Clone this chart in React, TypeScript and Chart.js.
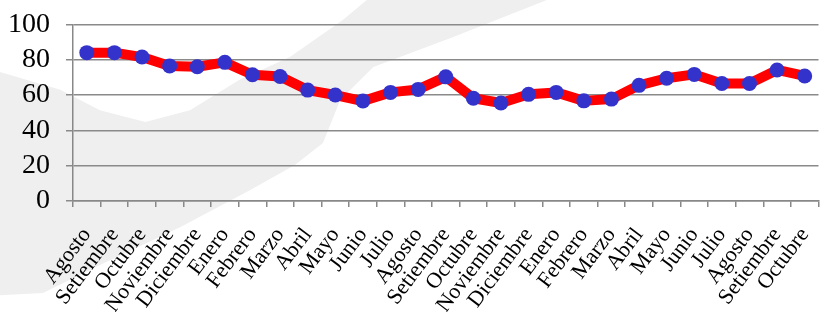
import React, { useEffect, useRef } from "react";
import { Chart, registerables } from "chart.js";

Chart.register(...registerables);

const categories = [
  "Agosto", "Setiembre", "Octubre", "Noviembre", "Diciembre", "Enero", "Febrero", "Marzo", "Abril",
  "Mayo", "Junio", "Julio", "Agosto", "Setiembre", "Octubre", "Noviembre", "Diciembre", "Enero",
  "Febrero", "Marzo", "Abril", "Mayo", "Junio", "Julio", "Agosto", "Setiembre", "Octubre",
];

const seriesValues = [
  84, 84, 81.5, 76.5, 76, 78.5, 71.5, 70.5, 62.8, 60, 56.6, 61.5, 63.2, 70.3, 58.2, 55.5, 60.4,
  61.5, 56.7, 57.7, 65.5, 69.5, 71.7, 66.5, 66.5, 74.2, 70.8,
];

const yMin = 0;
const yMax = 100;
const yStep = 20;

// decorative background swoosh (fractions of the canvas size)
const swoosh: [number, number][] = [
  [0, 0.231], [0.073, 0.288], [0.121, 0.353], [0.176, 0.391], [0.23, 0.353], [0.29, 0.256],
  [0.351, 0.183], [0.415, 0.064], [0.444, 0], [0.662, 0], [0.548, 0.119], [0.452, 0.215],
  [0.412, 0.32], [0.391, 0.458], [0.357, 0.529], [0.303, 0.609], [0.218, 0.728], [0.121, 0.849],
  [0.052, 0.939], [0, 0.946],
];

const swooshPlugin = {
  id: "swoosh",
  beforeDraw(chart: any) {
    const { ctx, width, height } = chart;
    ctx.save();
    ctx.fillStyle = "#efefef";
    ctx.beginPath();
    swoosh.forEach(([fx, fy], i) => {
      const x = fx * width;
      const y = fy * height;
      if (i === 0) ctx.moveTo(x, y);
      else ctx.lineTo(x, y);
    });
    ctx.closePath();
    ctx.fill();
    ctx.restore();
  },
};

export default function App() {
  const ref = useRef<HTMLCanvasElement | null>(null);

  useEffect(() => {
    if (!ref.current) return;
    const chart = new Chart(ref.current, {
      type: "line",
      data: {
        labels: categories,
        datasets: [
          {
            data: seriesValues,
            borderColor: "#ff0000",
            borderWidth: 10,
            backgroundColor: "#3333cc",
            pointBackgroundColor: "#3333cc",
            pointBorderColor: "#3333cc",
            pointBorderWidth: 0,
            pointRadius: 7.5,
            tension: 0,
            borderJoinStyle: "round",
            borderCapStyle: "round",
          },
        ],
      },
      options: {
        responsive: false,
        animation: false,
        devicePixelRatio: 1,
        layout: { padding: { top: 21, right: 7, left: 0, bottom: 0 } },
        plugins: { legend: { display: false }, tooltip: { enabled: false } },
        scales: {
          x: {
            offset: true,
            grid: {
              offset: true,
              drawOnChartArea: false,
              drawTicks: true,
              tickLength: 6,
              color: "#888",
              lineWidth: 1.5,
            },
            border: { color: "#888", width: 1.5 },
            ticks: {
              autoSkip: false,
              minRotation: 53,
              maxRotation: 53,
              padding: 20,
              color: "#000",
              font: { family: "'Liberation Serif', serif", size: 22, lineHeight: 0.57 },
            },
            afterFit(scale: any) {
              scale.height = 111;
              scale.paddingRight = 0;
              scale.paddingLeft = 0;
            },
          },
          y: {
            min: yMin,
            max: yMax,
            grid: { color: "#8a8a8a", lineWidth: 1.5, tickLength: 7 },
            border: { color: "#888", width: 1.5 },
            ticks: {
              stepSize: yStep,
              autoSkip: false,
              padding: 16,
              color: "#000",
              font: { family: "'Liberation Serif', serif", size: 28, lineHeight: 0.6 },
            },
            afterFit(scale: any) {
              scale.width = 73;
            },
          },
        },
      },
      plugins: [swooshPlugin],
    });
    return () => chart.destroy();
  }, []);

  return (
    <div style={{ position: "absolute", left: 0, top: 0, width: 826, height: 312, background: "#fff" }}>
      <canvas ref={ref} width={826} height={312} style={{ display: "block" }} />
    </div>
  );
}
